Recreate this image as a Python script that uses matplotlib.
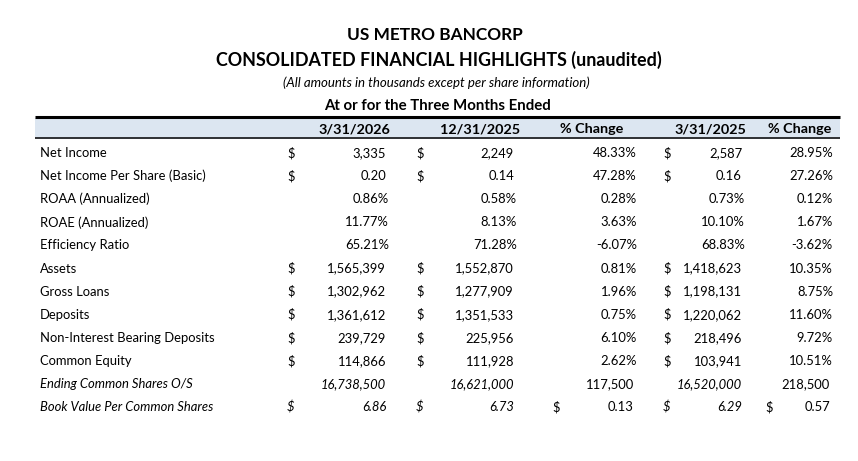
import matplotlib
matplotlib.use("Agg")
import matplotlib.pyplot as plt

plt.rcParams['font.family'] = ['Lato', 'DejaVu Sans']

# table data
row_labels = [
    "Net Income", "Net Income Per Share (Basic)", "ROAA (Annualized)",
    "ROAE (Annualized)", "Efficiency Ratio", "Assets", "Gross Loans",
    "Deposits", "Non-Interest Bearing Deposits", "Common Equity",
    "Ending Common Shares O/S", "Book Value Per Common Shares",
]
col_headers = ["3/31/2026", "12/31/2025", "% Change", "3/31/2025", "% Change"]

q1_2026 = [3335, 0.20, 0.86, 11.77, 65.21, 1565399, 1302962, 1361612, 239729, 114866, 16738500, 6.86]
q4_2025 = [2249, 0.14, 0.58, 8.13, 71.28, 1552870, 1277909, 1351533, 225956, 111928, 16621000, 6.73]
chg_q = [48.33, 47.28, 0.28, 3.63, -6.07, 0.81, 1.96, 0.75, 6.10, 2.62, 117500, 0.13]
q1_2025 = [2587, 0.16, 0.73, 10.10, 68.83, 1418623, 1198131, 1220062, 218496, 103941, 16520000, 6.29]
chg_y = [28.95, 27.26, 0.12, 1.67, -3.62, 10.35, 8.75, 11.60, 9.72, 10.51, 218500, 0.57]

# how each row is printed
row_kind = ["usd", "usd2", "pct", "pct", "pct", "usd", "usd", "usd", "usd", "usd", "num", "usd2"]
italic_rows = [10, 11]

# layout in pixels (y down)
W, H = 858, 461
lab_x = 40
dollar_x = [287, 416, 552, 663, 765]
right_x = [386, 514, 634, 742, 830]
head_right = [390, 520, 623, 746, 831]
row_y0, row_dy = 153, 23.1
fs = 9.4
fs_bold = 10.4

fig = plt.figure(figsize=(W / 100, H / 100), dpi=100)
ax = fig.add_axes([0, 0, 1, 1])
ax.set_xlim(0, W)
ax.set_ylim(H, 0)
ax.axis('off')

# titles
ax.text(435, 35, "US METRO BANCORP", ha='center', va='center', fontsize=12.4, fontweight='bold')
ax.text(439, 60, "CONSOLIDATED FINANCIAL HIGHLIGHTS (unaudited)", ha='center', va='center',
        fontsize=12.9, fontweight='bold')
ax.text(436, 83, "(All amounts in thousands except per share information)", ha='center', va='center',
        fontsize=9.5, style='italic')
ax.text(437, 106, "At or for the Three Months Ended", ha='center', va='center', fontsize=10.8,
        fontweight='bold')

# header band
ax.axhspan(118, 138.5, xmin=35 / W, xmax=840 / W, color='#dce6f1', lw=0)
ax.hlines(117.5, 35, 840, color='black', lw=2.2)
ax.hlines(138.5, 35, 840, color='black', lw=1.1)
for x, h in zip(head_right, col_headers):
    ax.text(x, 129, h, ha='right', va='center', fontsize=fs_bold, fontweight='bold')


def fmt(v, kind):
    if kind == "pct":
        return f"{v:.2f}%"
    if kind == "usd2":
        return f"{v:.2f}"
    return f"{v:,.0f}"


columns = [q1_2026, q4_2025, chg_q, q1_2025, chg_y]
for i, lab in enumerate(row_labels):
    y = row_y0 + i * row_dy
    ita = i in italic_rows
    ax.text(lab_x, y, lab, ha='left', va='center', fontsize=fs, style='italic' if ita else 'normal')
    for c, col in enumerate(columns):
        kind = row_kind[i]
        # change columns are percentages for the money rows
        if c in (2, 4) and kind == "usd":
            kind = "pct"
        if c in (2, 4) and i == 1:
            kind = "pct"
        text = fmt(col[i], kind)
        st = 'italic' if (ita and c not in (2, 4)) else 'normal'
        xr = right_x[c] + (3 if kind == "pct" else 0)
        ax.text(xr, y, text, ha='right', va='center', fontsize=fs, style=st)
        if kind in ("usd", "usd2"):
            ax.text(dollar_x[c], y, "$", ha='left', va='center', fontsize=fs, style=st)

fig.savefig("out.png", dpi=100)
